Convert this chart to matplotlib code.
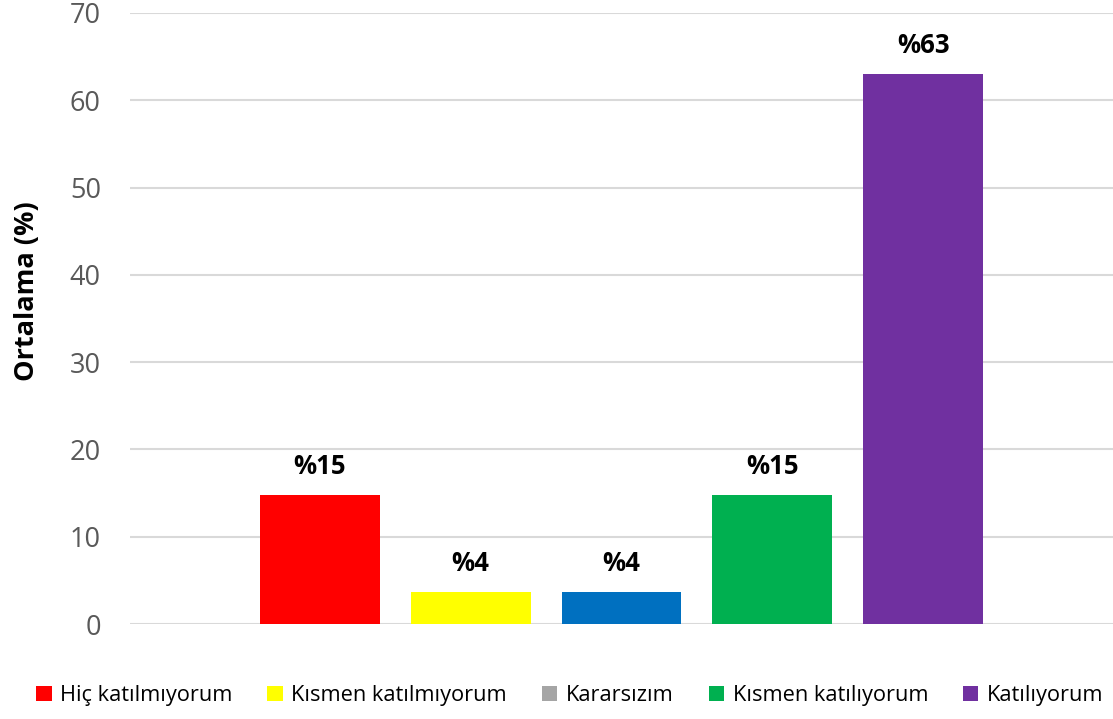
import matplotlib
matplotlib.use("Agg")
import matplotlib.pyplot as plt
from matplotlib.patches import Patch

categories = ["Hiç katılmıyorum", "Kısmen katılmıyorum", "Kararsızım", "Kısmen katılıyorum", "Katılıyorum"]
values = [14.8, 3.7, 3.7, 14.8, 63.0]
labels = ["%15", "%4", "%4", "%15", "%63"]
bar_colors = ["#FF0000", "#FFFF00", "#0070C0", "#00B050", "#7030A0"]
legend_colors = ["#FF0000", "#FFFF00", "#A5A5A5", "#00B050", "#7030A0"]
yticks = [0, 10, 20, 30, 40, 50, 60, 70]

plt.rcParams['font.family'] = ['Open Sans', 'DejaVu Sans']

fig = plt.figure(figsize=(11.13, 7.19), dpi=100)
ax = fig.add_axes([0.1168, 0.132, 0.8832, 0.850])

x = list(range(len(values)))
ax.bar(x, values, width=0.795, color=bar_colors, zorder=3)
for xi, v, lab in zip(x, values, labels):
    ax.annotate(lab, (xi, v), xytext=(0, 11), textcoords="offset points",
                ha="center", va="bottom", fontsize=18.5, fontweight="bold", color="black")

ax.set_xlim(-1.258, 5.258)
ax.set_ylim(0, 70)
ax.set_yticks(yticks)
ax.set_xticks([])
ax.grid(axis="y", color="#D9D9D9", linewidth=1.5, zorder=0)
for s in ax.spines.values():
    s.set_visible(False)
ax.tick_params(axis="y", length=0, pad=21, labelsize=19.5, labelcolor="#595959")
ax.set_ylabel("Ortalama (%)", fontsize=19.5, fontweight="bold")
ax.yaxis.set_label_coords(-0.092, 0.545)

handles = [Patch(facecolor=c, edgecolor="none") for c in legend_colors]
fig.legend(handles, categories, loc="center", bbox_to_anchor=(0.512, 0.033), ncol=5,
           frameon=False, fontsize=15.7, handlelength=0.7, handleheight=0.7,
           handletextpad=0.4, columnspacing=1.6)

fig.savefig("out.png", dpi=100)
